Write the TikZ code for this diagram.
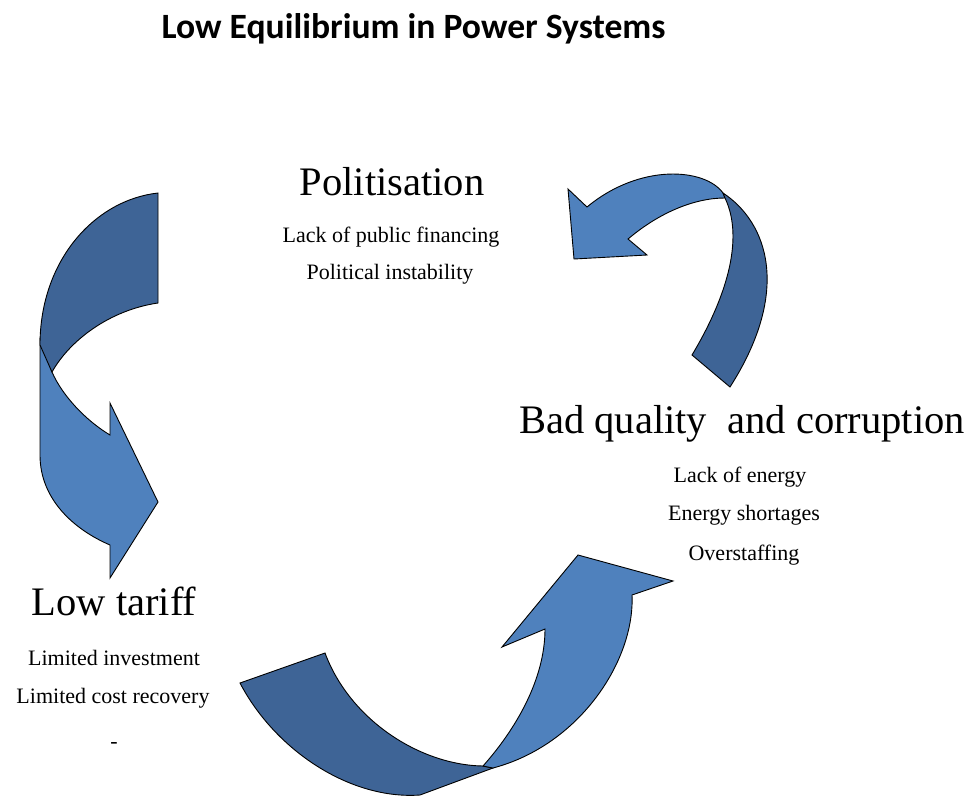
\documentclass[tikz,border=0pt]{standalone}
\usepackage{fontspec}
\setmainfont{Liberation Serif}
\newfontfamily\titlefont{Carlito}
\definecolor{darkband}{HTML}{3E6496}
\definecolor{lightband}{HTML}{4F81BD}
\begin{document}
\begin{tikzpicture}[x=1pt,y=-1pt,
  lightpart/.style={fill=lightband,draw=black,line width=0.9pt,line join=miter},
  darkpart/.style={fill=darkband,draw=black,line width=0.9pt,line join=miter},
  headtext/.style={font=\fontsize{40.5}{44}\selectfont,anchor=base,inner sep=0pt},
  subtext/.style={font=\fontsize{22}{24}\selectfont,anchor=base,inner sep=0pt},
  titletext/.style={font=\titlefont\bfseries\fontsize{35.6}{40}\selectfont,anchor=base,inner sep=0pt}]
\useasboundingbox (0,0) rectangle (972,796);
\fill[white] (0,0) rectangle (972,796);

% title
\node[titletext] (title) at (413.5,38) {Low Equilibrium in Power Systems};

% left arrow (Politisation -> Low tariff)
\draw[lightpart] (40,340) -- (40,455) .. controls (40,500) and (75,530) .. (110,545)
  -- (110,578) -- (158,502) -- (110,403) -- (110,435)
  .. controls (85,420) and (62,395) .. (52,372) -- cycle;
\draw[darkpart] (158,193) .. controls (95,200) and (40,260) .. (40,345)
  -- (52,372) .. controls (70,340) and (110,310) .. (158,303) -- cycle;

% top-right arrow (Bad quality -> Politisation)
\draw[lightpart] (628,239) .. controls (660,212) and (695,198) .. (725,198)
  -- (723,193) .. controls (705,168) and (640,163) .. (587,207)
  -- (568,189) -- (574,259) -- (647,255) -- cycle;
\draw[darkpart] (723,193) .. controls (767,222) and (792,290) .. (730,387)
  -- (692,355) .. controls (725,300) and (745,240) .. (725,198) -- cycle;

% bottom arrow (Low tariff -> Bad quality)
\draw[darkpart] (240,683) -- (325,653) .. controls (350,720) and (420,765) .. (483,766)
  -- (493,768) -- (420,795) .. controls (350,800) and (275,750) .. (240,683) -- cycle;
\draw[lightpart] (483,766) .. controls (515,730) and (545,680) .. (545,629)
  -- (502,647) -- (578,555) -- (673,581) -- (632,595)
  .. controls (635,660) and (580,745) .. (493,768) -- cycle;

% Politisation
\node[headtext] (pol) at (392,195) {Politisation};
\node[subtext] (pol1) at (391,242) {Lack of public financing};
\node[subtext] (pol2) at (390,279) {Political instability};

% Bad quality
\node[headtext] (bad) at (742,433) {Bad quality\ \ and corruption};
\node[subtext] (bad1) at (740,482) {Lack of energy};
\node[subtext] (bad2) at (744,520) {Energy shortages};
\node[subtext] (bad3) at (744,560) {Overstaffing};

% Low tariff
\node[headtext] (low) at (114,615) {Low tariff};
\node[subtext] (low1) at (114,665) {Limited investment};
\node[subtext] (low2) at (113,703) {Limited cost recovery};
\node[subtext] (low3) at (114,748) {-};
\end{tikzpicture}
\end{document}
